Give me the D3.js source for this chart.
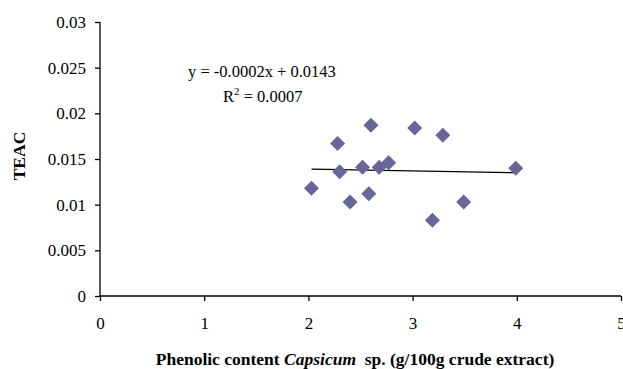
<!DOCTYPE html>
<html>
<head>
<meta charset="utf-8">
<script src="https://cdn.jsdelivr.net/npm/d3@7"></script>
<style>
  body { margin: 0; background: #fff; }
  svg text { font-family: "Liberation Serif", "Times New Roman", serif; }
</style>
</head>
<body>
<script>
// phenolic content (g/100g) vs TEAC
var phenolic = [2.60, 3.02, 3.29, 2.28, 2.30, 2.52, 2.68, 2.77, 3.99, 2.03, 2.40, 2.58, 3.49, 3.19];
var teac = [0.0187, 0.0184, 0.0176, 0.0167, 0.0136, 0.0141, 0.0141, 0.0146, 0.0140, 0.0118, 0.0103, 0.0112, 0.0103, 0.0083];
var xTicks = [0, 1, 2, 3, 4, 5];
var yTicks = [0, 0.005, 0.01, 0.015, 0.02, 0.025, 0.03];
var slope = -0.0002, intercept = 0.0143;

var serif = "Liberation Serif, Times New Roman, serif";
var w = 623, h = 369;
var svg = d3.select("body").append("svg")
  .attr("width", w)
  .attr("height", h);

var x = d3.scaleLinear().domain([0, 5]).range([100, 621]);
var y = d3.scaleLinear().domain([0, 0.03]).range([296, 22]);

var xAxis = d3.axisBottom(x).tickValues(xTicks).tickSize(5).tickPadding(16)
  .tickFormat(d3.format("d"));
var yAxis = d3.axisLeft(y).tickValues(yTicks).tickSize(5).tickPadding(9)
  .tickFormat(function(d) { return d === 0 ? "0" : String(+d.toFixed(3)); });

var gx = svg.append("g")
  .attr("transform", "translate(0," + y(0) + ")")
  .call(xAxis);
var gy = svg.append("g")
  .attr("transform", "translate(" + x(0) + ",0)")
  .call(yAxis);

[gx, gy].forEach(function(g) {
  g.attr("font-family", serif).attr("font-size", 17);
  g.select(".domain").attr("stroke", "#000").attr("stroke-width", 1.3);
  g.selectAll(".tick line").attr("stroke", "#000").attr("stroke-width", 1.3);
  g.selectAll(".tick text").attr("fill", "#000");
});
gy.select(".domain").attr("d", "M0," + y(0.03) + "V" + y(0));
gx.select(".domain").attr("d", "M" + x(0) + ",0H" + x(5));

// trendline
var xmin = d3.min(phenolic), xmax = d3.max(phenolic);
svg.append("line")
  .attr("x1", x(xmin)).attr("y1", y(slope * xmin + intercept))
  .attr("x2", x(xmax)).attr("y2", y(slope * xmax + intercept))
  .attr("stroke", "#000")
  .attr("stroke-width", 1.3);

// diamonds
var pts = phenolic.map(function(d, i) { return [d, teac[i]]; });
svg.selectAll("path.pt")
  .data(pts)
  .enter()
  .append("path")
  .attr("class", "pt")
  .attr("transform", function(d) { return "translate(" + x(d[0]) + "," + y(d[1]) + ")"; })
  .attr("d", "M0,-7.5L7.5,0L0,7.5L-7.5,0Z")
  .attr("fill", "#666699");

// equation
svg.append("text")
  .attr("x", 188).attr("y", 77)
  .attr("font-size", 16.5)
  .text("y = -0.0002x + 0.0143");
var r2 = svg.append("text")
  .attr("x", 223).attr("y", 102)
  .attr("font-size", 16.5);
r2.append("tspan").text("R");
r2.append("tspan").attr("dy", -7).attr("font-size", 11).text("2");
r2.append("tspan").attr("dy", 7).text(" = 0.0007");

// axis titles
var xt = svg.append("text")
  .attr("x", 355).attr("y", 365)
  .attr("text-anchor", "middle")
  .attr("font-size", 17.5)
  .attr("font-weight", "bold");
xt.append("tspan").text("Phenolic content ");
xt.append("tspan").attr("font-style", "italic").text("Capsicum");
xt.append("tspan").attr("xml:space", "preserve").text("  sp. (g/100g crude extract)");

svg.append("text")
  .attr("transform", "translate(25,156) rotate(-90)")
  .attr("text-anchor", "middle")
  .attr("font-size", 17.5)
  .attr("font-weight", "bold")
  .text("TEAC");
</script>
</body>
</html>
